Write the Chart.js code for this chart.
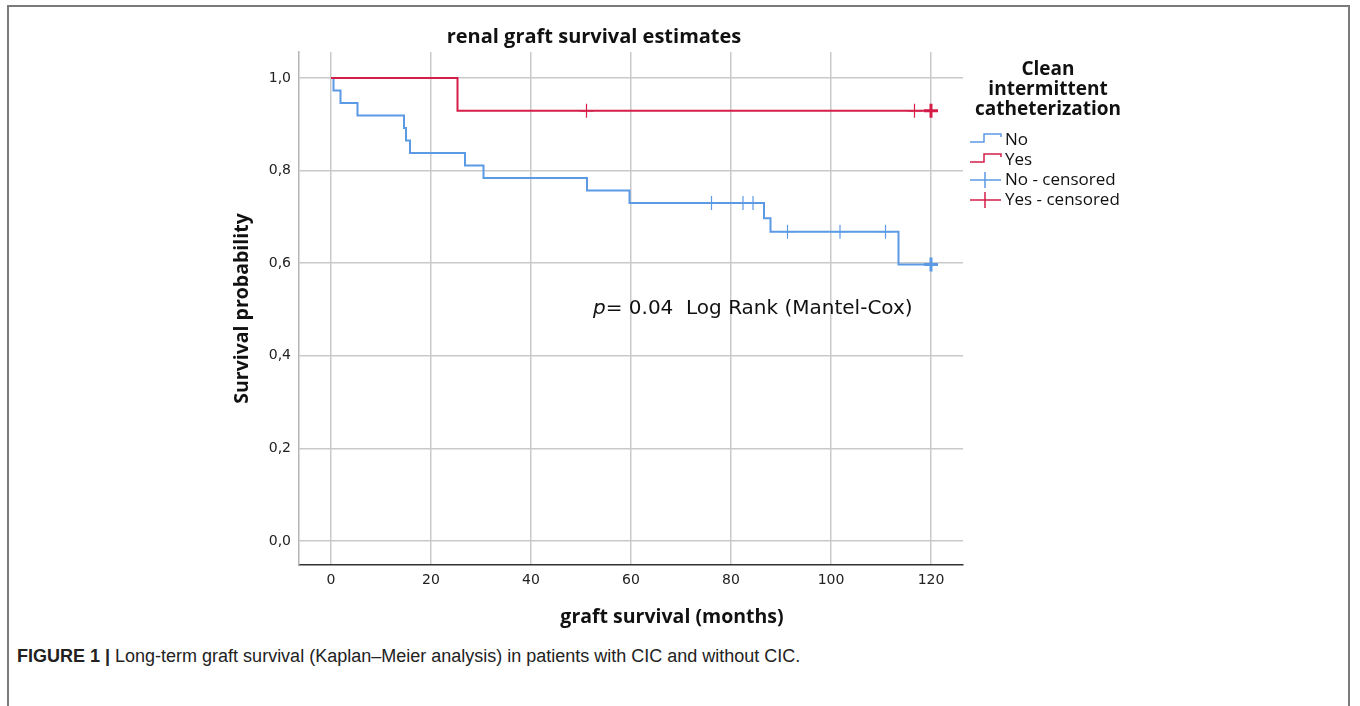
<!DOCTYPE html>
<html>
<head>
<meta charset="utf-8">
<script src="https://cdn.jsdelivr.net/npm/chart.js@4.4.0/dist/chart.umd.min.js"></script>
<style>
  html, body { margin: 0; padding: 0; background: #fff; }
  body { width: 1360px; height: 706px; position: relative; overflow: hidden; }
  #frame { position: absolute; left: 7px; top: 5px; width: 1343px; height: 720px;
           border: 2px solid #7a7a7a; border-bottom: none; box-sizing: border-box; }
  #wrap { position: absolute; left: 0; top: 0; width: 1360px; height: 640px; }
  #caption { position: absolute; left: 17px; top: 646px; font-family: "Liberation Sans", Arial, sans-serif;
             font-size: 18px; color: #222; white-space: nowrap; }
  #caption b { font-weight: bold; }
</style>
</head>
<body>
<div id="frame"></div>
<div id="wrap"><canvas id="km"></canvas></div>
<div id="caption"><b>FIGURE 1 |</b> Long-term graft survival (Kaplan–Meier analysis) in patients with CIC and without CIC.</div>
<script>
// survival steps: time (months) and survival after the event
const noTimes = [0, 0.5, 1.9, 5.3, 14.6, 15.0, 15.8, 26.8, 30.5, 51.2, 59.7, 86.6, 87.9, 113.5, 120];
const noSurv  = [1.0, 0.973, 0.946, 0.919, 0.892, 0.865, 0.838, 0.811, 0.784, 0.757, 0.730, 0.697, 0.668, 0.597, 0.597];
const yesTimes = [0, 25.3, 120];
const yesSurv  = [1.0, 0.929, 0.929];

// censored observations
const noCensTimes = [76.1, 82.4, 84.4, 91.3, 101.8, 110.9, 120];
const noCensSurv  = [0.730, 0.730, 0.730, 0.668, 0.668, 0.668, 0.597];
const yesCensTimes = [51.1, 116.7, 120];
const yesCensSurv  = [0.929, 0.929, 0.929];

const xTicks = [0, 20, 40, 60, 80, 100, 120];
const yTicks = [0, 0.2, 0.4, 0.6, 0.8, 1.0];

const blue = 'rgb(92, 154, 230)';
const red = 'rgb(212, 30, 72)';

function pts(xs, ys) {
  let out = [];
  for (let i = 0; i < xs.length; i++) out.push({x: xs[i], y: ys[i]});
  return out;
}

const legendPlugin = {
  id: 'kmLegend',
  afterDraw(chart) {
    const ctx = chart.ctx;
    ctx.save();
    ctx.fillStyle = '#111';
    ctx.textBaseline = 'middle';

    // x axis title, SPSS puts it a bit right of the plot centre
    ctx.textAlign = 'center';
    ctx.font = 'bold 19.5px "Open Sans"';
    ctx.fillText('graft survival (months)', 672, 617);

    // p-value note
    ctx.textAlign = 'left';
    ctx.font = 'italic 20px "DejaVu Sans"';
    let x0 = 593;
    ctx.fillText('p', x0, 309);
    let w = ctx.measureText('p').width;
    ctx.font = '20px "DejaVu Sans"';
    ctx.fillText('= 0.04  Log Rank (Mantel-Cox)', x0 + w, 309);

    // legend title
    ctx.textAlign = 'center';
    ctx.font = 'bold 19px "Open Sans"';
    ctx.fillText('Clean', 1048, 70);
    ctx.fillText('intermittent', 1048, 90);
    ctx.fillText('catheterization', 1048, 110);

    const items = [
      {label: 'No', color: blue, kind: 'step'},
      {label: 'Yes', color: red, kind: 'step'},
      {label: 'No - censored', color: blue, kind: 'cens'},
      {label: 'Yes - censored', color: red, kind: 'cens'}
    ];
    ctx.textAlign = 'left';
    ctx.font = '17px "Open Sans"';
    items.forEach(function(it, i) {
      const y = 140 + i * 20;
      ctx.strokeStyle = it.color;
      ctx.lineWidth = 1.5;
      ctx.beginPath();
      if (it.kind === 'step') {
        ctx.moveTo(970, y + 2);
        ctx.lineTo(984, y + 2);
        ctx.lineTo(984, y - 6);
        ctx.lineTo(1001, y - 6);
        ctx.lineTo(1001, y - 3);
      } else {
        ctx.moveTo(970, y);
        ctx.lineTo(1001, y);
        ctx.moveTo(985, y - 8);
        ctx.lineTo(985, y + 8);
      }
      ctx.stroke();
      ctx.fillStyle = '#111';
      ctx.fillText(it.label, 1005, y);
    });
    ctx.restore();
  }
};

const ctx = document.getElementById('km').getContext('2d');
const chart = new Chart(ctx, {
  type: 'line',
  data: {
    datasets: [
      {
        label: 'Yes',
        data: pts(yesTimes, yesSurv),
        borderColor: red,
        borderWidth: 2,
        stepped: 'before',
        pointRadius: 0,
        fill: false
      },
      {
        label: 'No',
        data: pts(noTimes, noSurv),
        borderColor: blue,
        borderWidth: 2,
        stepped: 'before',
        pointRadius: 0,
        fill: false
      },
      {
        label: 'Yes - censored',
        data: pts(yesCensTimes, yesCensSurv),
        showLine: false,
        pointStyle: 'cross',
        pointRadius: 7,
        borderColor: red,
        pointBorderWidth: function(c) { return c.raw && c.raw.x === 120 ? 3 : 1.2; }
      },
      {
        label: 'No - censored',
        data: pts(noCensTimes, noCensSurv),
        showLine: false,
        pointStyle: 'cross',
        pointRadius: 7,
        borderColor: blue,
        pointBorderWidth: function(c) { return c.raw && c.raw.x === 120 ? 3 : 1.2; }
      }
    ]
  },
  options: {
    responsive: true,
    maintainAspectRatio: false,
    animation: false,
    layout: {
      padding: { left: 225, right: 397, top: 0, bottom: 0 }
    },
    plugins: {
      legend: { display: false },
      tooltip: { enabled: false },
      title: {
        display: true,
        text: 'renal graft survival estimates',
        color: '#111',
        font: { family: 'Open Sans', size: 20, weight: 'bold' },
        padding: { top: 25, bottom: 3 }
      }
    },
    scales: {
      x: {
        type: 'linear',
        min: -6.4,
        max: 126.4,
        afterFit: function(scale) { scale.height = 75; },
        afterBuildTicks: function(scale) {
          scale.ticks = xTicks.map(function(v) { return {value: v}; });
        },
        grid: { color: '#c9c9c9', lineWidth: 1.5, drawTicks: false },
        border: { color: '#333', width: 1.5 },
        ticks: {
          padding: 7,
          color: '#222',
          font: { family: 'DejaVu Sans', size: 14 },
          maxRotation: 0
        },
        title: { display: false }
      },
      y: {
        type: 'linear',
        min: -0.052,
        max: 1.056,
        afterFit: function(scale) { scale.width = 74; },
        afterBuildTicks: function(scale) {
          scale.ticks = yTicks.map(function(v) { return {value: v}; });
        },
        grid: { color: '#c9c9c9', lineWidth: 1.5, drawTicks: false },
        border: { color: '#b5b5b5', width: 1.5 },
        ticks: {
          padding: 8,
          color: '#222',
          font: { family: 'DejaVu Sans', size: 14 },
          callback: function(v) { return v.toFixed(1).replace('.', ','); }
        },
        title: {
          display: true,
          text: 'Survival probability',
          color: '#111',
          font: { family: 'Open Sans', size: 19.5, weight: 'bold' },
          padding: { top: 6, bottom: 0 }
        }
      }
    }
  },
  plugins: [legendPlugin]
});
</script>
</body>
</html>
